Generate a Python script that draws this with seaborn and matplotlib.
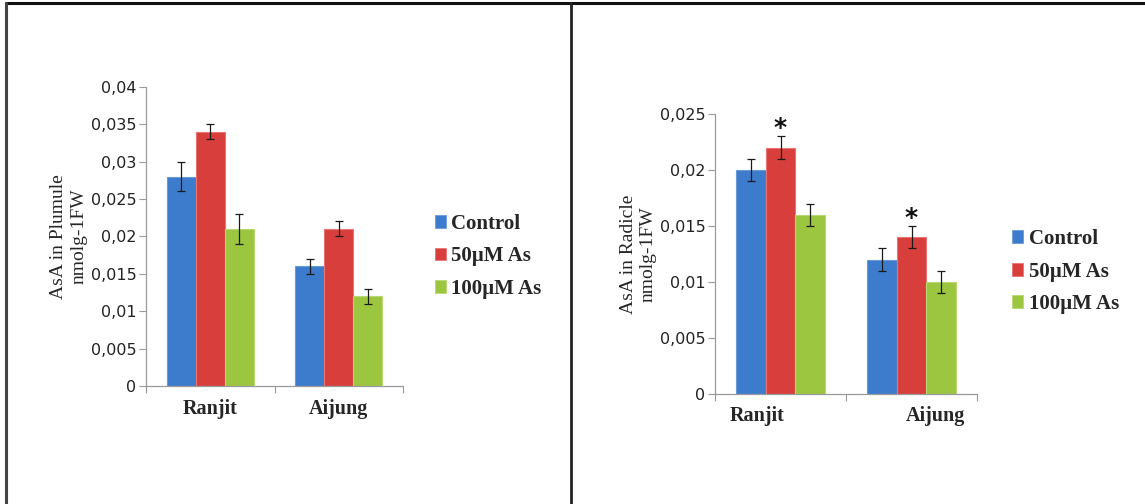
import matplotlib
matplotlib.use("Agg")
import matplotlib.pyplot as plt
import matplotlib.transforms as mtransforms
from matplotlib.lines import Line2D
from matplotlib.patches import Rectangle
import seaborn as sns
import pandas as pd

sns.set_theme(style="white")
plt.rcParams["font.family"] = ["DejaVu Sans"]

# ---- data ----
cultivars = ["Ranjit", "Aijung"]
treatments = ["Control", "50\u00b5M As", "100\u00b5M As"]

plumule_values = [[0.028, 0.034, 0.021], [0.016, 0.021, 0.012]]
plumule_errors = [[0.002, 0.001, 0.002], [0.001, 0.001, 0.001]]
plumule_ticks = [0, 0.005, 0.01, 0.015, 0.02, 0.025, 0.03, 0.035, 0.04]
plumule_ticklabels = ["0", "0,005", "0,01", "0,015", "0,02", "0,025", "0,03", "0,035", "0,04"]

radicle_values = [[0.020, 0.022, 0.016], [0.012, 0.014, 0.010]]
radicle_errors = [[0.001, 0.001, 0.001], [0.001, 0.001, 0.001]]
radicle_ticks = [0, 0.005, 0.01, 0.015, 0.02, 0.025]
radicle_ticklabels = ["0", "0,005", "0,01", "0,015", "0,02", "0,025"]
radicle_stars = [(0, 1), (1, 1)]  # (cultivar index, treatment index)

colors = ["#3d7ccc", "#d83f3c", "#9cc540"]
edge_colors = ["#6a9ad6", "#e87572", "#b9d872"]

LEGEND_PROP = {"family": "Liberation Serif", "weight": "bold", "size": 15}


def long_frame(values, errors):
    rows = []
    for ci, c in enumerate(cultivars):
        for ti, t in enumerate(treatments):
            rows.append({"cultivar": c, "treatment": t,
                         "value": values[ci][ti], "err": errors[ci][ti]})
    return pd.DataFrame(rows)


def draw_panel(ax, values, errors, ticks, ticklabels, ylabel, label_shift):
    df = long_frame(values, errors)
    sns.barplot(data=df, x="cultivar", y="value", hue="treatment",
                order=cultivars, hue_order=treatments, palette=colors,
                errorbar=None, width=0.68, gap=0, ax=ax, legend=False,
                saturation=1)
    bar_groups = [list(c) for c in ax.containers]
    for ti, bars in enumerate(bar_groups):
        for ci, bar in enumerate(bars):
            bar.set_edgecolor(edge_colors[ti])
            bar.set_linewidth(0.8)
            cx = bar.get_x() + bar.get_width() / 2
            ax.errorbar(cx, values[ci][ti], yerr=errors[ci][ti], fmt="none",
                        ecolor="#1a1a1a", elinewidth=0.9, capsize=3.2,
                        capthick=0.9, zorder=5)
    ax.set_xlim(-0.5, 1.5)
    ax.set_ylim(ticks[0], ticks[-1])
    ax.set_yticks(ticks)
    ax.set_yticklabels(ticklabels, fontsize=11.5, color="#222222")
    # category separators as major ticks, names as minor ticks
    ax.set_xticks([-0.5, 0.5, 1.5])
    ax.set_xticklabels(["", "", ""])
    ax.set_xticks([0, 1], minor=True)
    ax.set_xticklabels(cultivars, minor=True, fontsize=14.5,
                       fontweight="bold", family="Liberation Serif")
    ax.tick_params(axis="x", which="major", length=5, width=0.8,
                   color="#9a9a9a", direction="out", bottom=True)
    ax.tick_params(axis="x", which="minor", length=0, pad=9)
    ax.tick_params(axis="y", length=5, width=0.8, color="#9a9a9a",
                   direction="out", left=True, pad=2)
    for lab, dx in zip(ax.get_xticklabels(minor=True), label_shift):
        lab.set_transform(lab.get_transform() + mtransforms.ScaledTranslation(
            dx / 100, 0, ax.figure.dpi_scale_trans))
    for side in ("top", "right"):
        ax.spines[side].set_visible(False)
    for side in ("left", "bottom"):
        ax.spines[side].set_color("#9a9a9a")
        ax.spines[side].set_linewidth(0.9)
    ax.set_xlabel("")
    ax.set_ylabel(ylabel, family="Liberation Serif", fontsize=14,
                  linespacing=1.25, labelpad=2)
    handles = [Rectangle((0, 0), 1, 1, facecolor=c, edgecolor=e, lw=0.6)
               for c, e in zip(colors, edge_colors)]
    return handles, bar_groups


fig = plt.figure(figsize=(11.45, 5.04), dpi=100)

ax1 = fig.add_axes([0.1275, 0.234, 0.2245, 0.594])
h1, _ = draw_panel(ax1, plumule_values, plumule_errors, plumule_ticks,
                   plumule_ticklabels, "AsA in Plumule\nnmolg-1FW", [0, 0])
ax1.legend(h1, treatments, loc="center left", bbox_to_anchor=(1.05, 0.433),
           frameon=False, handlelength=0.55, handleheight=0.55,
           handletextpad=0.25, labelspacing=0.6, prop=LEGEND_PROP)

ax2 = fig.add_axes([0.6245, 0.2183, 0.2288, 0.5556])
h2, groups2 = draw_panel(ax2, radicle_values, radicle_errors, radicle_ticks,
                         radicle_ticklabels, "AsA in Radicle\nnmolg-1FW", [-23, 24])
ax2.legend(h2, treatments, loc="center left", bbox_to_anchor=(1.062, 0.437),
           frameon=False, handlelength=0.55, handleheight=0.55,
           handletextpad=0.25, labelspacing=0.6, prop=LEGEND_PROP)
for ci, ti in radicle_stars:
    bar = groups2[ti][ci]
    cx = bar.get_x() + bar.get_width() / 2
    ax2.text(cx, radicle_values[ci][ti] + radicle_errors[ci][ti] + 0.00075, "*",
             ha="center", va="center", fontsize=18, fontweight="bold",
             color="#111111", family="DejaVu Sans")

# panel frame lines
fig.add_artist(Line2D([0.0055, 1.0], [0.9935, 0.9935], color="#111111", lw=2.2,
                      transform=fig.transFigure))
fig.add_artist(Line2D([0.0055, 0.0055], [0.0, 0.9935], color="#444444", lw=2.2,
                      transform=fig.transFigure))
fig.add_artist(Line2D([0.4985, 0.4985], [0.0, 0.9935], color="#222222", lw=2.0,
                      transform=fig.transFigure))

fig.savefig("out.png", dpi=100, facecolor="white")
